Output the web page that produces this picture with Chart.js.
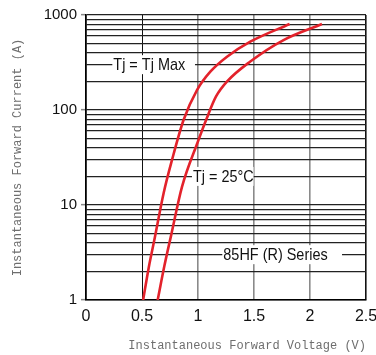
<!DOCTYPE html>
<html><head><meta charset="utf-8">
<style>html,body{margin:0;padding:0;background:#fff}#wrap{width:376px;height:355px}</style>
<script src="https://cdn.jsdelivr.net/npm/chart.js@4"></script>
</head><body><div id="wrap"><canvas id="c" width="376" height="355"></canvas></div>
<script>
// ---- data ----
const xTickValues = [0, 0.5, 1, 1.5, 2, 2.5];
const yMajorTicks = [1, 10, 100, 1000];
const tjMaxVoltage = [0.51, 0.56, 0.61, 0.693, 0.768, 0.871, 0.991, 1.11, 1.259, 1.467, 1.818];
const tjMaxCurrent = [1, 2.19, 4.27, 13.3, 29.8, 78.5, 162, 253, 364, 524, 804];
const tj25Voltage  = [0.64, 0.70, 0.76, 0.857, 0.997, 1.074, 1.16, 1.26, 1.467, 1.764, 2.107];
const tj25Current  = [1, 2.29, 4.79, 15.5, 45.7, 79.4, 138, 200, 324, 545, 804];
const noteTexts = ['Tj = Tj Max', 'Tj = 25°C', '85HF (R) Series'];

const yAllTicks = [];
[1, 10, 100].forEach(d => { for (let k = 1; k <= 9; k++) yAllTicks.push(k * d); });
yAllTicks.push(1000);

const toXY = (xs, ys) => xs.map((v, i) => ({x: v, y: ys[i]}));

const notesPlugin = {
  id: 'notes',
  beforeDatasetsDraw(chart) {
    const xs = chart.scales.x, ys = chart.scales.y, ctx = chart.ctx;
    const boxes = [
      {t: noteTexts[0], x0: 0.235, x1: 0.973, y: 300},
      {t: noteTexts[1], x0: 0.946, x1: 1.496, y: 20},
      {t: noteTexts[2], x0: 1.217, x1: 2.286, y: 3}
    ];
    ctx.save();
    boxes.forEach(b => {
      const px0 = xs.getPixelForValue(b.x0), px1 = xs.getPixelForValue(b.x1);
      const py = ys.getPixelForValue(b.y);
      ctx.fillStyle = '#fff';
      ctx.fillRect(px0, py - 9.5, px1 - px0, 19);
      ctx.save();
      ctx.translate(px0 + 1, py + 0.5);
      ctx.scale(0.85, 1);
      ctx.fillStyle = '#111';
      ctx.font = '17px "Liberation Sans", Arial, sans-serif';
      ctx.textBaseline = 'middle';
      ctx.textAlign = 'left';
      ctx.fillText(b.t, 0, 0);
      ctx.restore();
    });
    ctx.restore();
  }
};

new Chart(document.getElementById('c'), {
  type: 'line',
  data: {
    datasets: [
      {label: 'Tj = Tj Max', data: toXY(tjMaxVoltage, tjMaxCurrent), borderColor: '#e3222b', borderWidth: 2.6,
       pointRadius: 0, cubicInterpolationMode: 'monotone', fill: false},
      {label: 'Tj = 25°C', data: toXY(tj25Voltage, tj25Current), borderColor: '#e3222b', borderWidth: 2.6,
       pointRadius: 0, cubicInterpolationMode: 'monotone', fill: false}
    ]
  },
  options: {
    responsive: false,
    animation: false,
    devicePixelRatio: 1,
    layout: {padding: {left: 0, top: 15, right: 10, bottom: 0}},
    plugins: {legend: {display: false}, tooltip: {enabled: false}},
    scales: {
      x: {
        type: 'linear', min: 0, max: 2.5,
        afterBuildTicks: s => { s.ticks = xTickValues.map(v => ({value: v})); },
        afterFit: s => { s.height = 55; s.paddingLeft = 0; s.paddingRight = 0; },
        ticks: {callback: v => String(v), color: '#111', padding: 7, maxRotation: 0, autoSkip: false,
                font: {family: '"Liberation Sans", Arial, sans-serif', size: 16}},
        grid: {
          drawTicks: false,
          color: c => (c.tick.value === 0.5 || c.tick.value === 0 || c.tick.value === 2.5) ? '#111' : '#8a8a8a',
          lineWidth: c => (c.tick.value === 0.5) ? 1 : 1.6
        },
        border: {display: true, color: '#000', width: 1.5},
        title: {display: true, text: 'Instantaneous Forward Voltage (V)', align: 'end', color: '#6e6e6e',
                padding: {top: 0, bottom: 2}, font: {family: '"Liberation Mono", monospace', size: 12}}
      },
      y: {
        type: 'logarithmic', min: 1, max: 1000,
        afterBuildTicks: s => { s.ticks = yAllTicks.map(v => ({value: v})); },
        afterFit: s => { s.width = 86; s.paddingTop = 0; s.paddingBottom = 0; },
        ticks: {callback: v => yMajorTicks.includes(v) ? String(v) : '', color: '#111', padding: 4, autoSkip: false,
                font: {family: '"Liberation Sans", Arial, sans-serif', size: 15}},
        grid: {
          color: '#222', lineWidth: 1.3, tickLength: 5,
          tickColor: c => yMajorTicks.includes(c.tick.value) ? '#888' : 'rgba(0,0,0,0)',
          tickWidth: 1.5
        },
        border: {display: true, color: '#000', width: 1.5},
        title: {display: true, text: 'Instantaneous Forward Current (A)', color: '#6e6e6e',
                padding: {top: 11, bottom: 0}, font: {family: '"Liberation Mono", monospace', size: 12}}
      }
    }
  },
  plugins: [notesPlugin]
});
</script></body></html>
